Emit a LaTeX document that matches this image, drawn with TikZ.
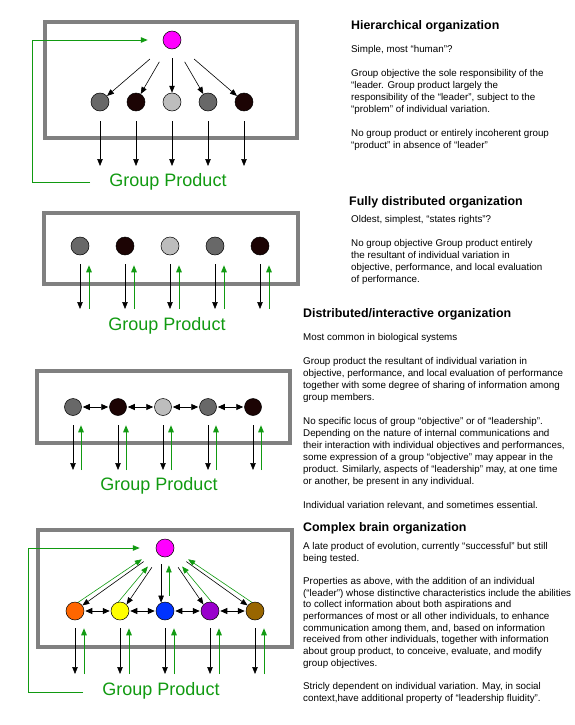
\documentclass[tikz,border=0pt]{standalone}
\usepackage{fontspec}
\setmainfont{Liberation Sans}
\usetikzlibrary{arrows.meta}
\definecolor{BoxGray}{HTML}{808080}
\definecolor{ProdGreen}{HTML}{119A11}
\definecolor{MidGray}{HTML}{686868}
\definecolor{DarkRed}{HTML}{1C0404}
\definecolor{LightGray}{HTML}{BDBDBD}
\definecolor{Leader}{HTML}{FF00FF}
\definecolor{Orange}{HTML}{FF6600}
\definecolor{Yellow}{HTML}{FFFF00}
\definecolor{Blue}{HTML}{0033FF}
\definecolor{Purple}{HTML}{9900CC}
\definecolor{Brown}{HTML}{996600}

\tikzset{
    member/.style={circle, draw=black, line width=0.5pt, minimum size=18pt, inner sep=0pt},
    frame/.style={draw=BoxGray, line width=4pt},
    arr/.style={-{Triangle[length=7pt,width=5.5pt]}, line width=0.6pt},
    garr/.style={arr, ProdGreen, line width=0.9pt},
    dblarr/.style={{Triangle[length=7pt,width=6pt]}-{Triangle[length=7pt,width=6pt]}, line width=0.9pt},
    product/.style={ProdGreen, inner sep=0pt, font=\fontsize{18}{20}\selectfont},
    heading/.style={anchor=base west, inner sep=0pt, font=\fontsize{12.4}{14}\selectfont\bfseries},
    body/.style={anchor=north west, inner sep=0pt, align=left, font=\fontsize{9.8}{12}\selectfont}
}

\begin{document}
\begin{tikzpicture}[x=1pt, y=-1pt]
    \useasboundingbox (0,0) rectangle (575,725);

    % Hierarchical organization
    \draw[frame] (45,22) rectangle (297,138);
    \node[member, fill=Leader] (l1) at (172,40) {};
    \foreach \i/\x/\c in {1/100/MidGray,2/136/DarkRed,3/172/LightGray,4/208/MidGray,5/244/DarkRed} {
        \node[member, fill=\c] (h\i) at (\x,102) {};
        \coordinate (o\i) at (\x,166);
    }
    \foreach \i/\sh in {1/20,2/16,3/9,4/16,5/20}
        \draw[arr, shorten <=\sh pt] (l1) -- (h\i);
    \foreach \i in {1,...,5}
        \draw[arr, shorten <=10pt] (h\i) -- (o\i);
    \node[product] (gp1) at (168,182) {Group Product};
    \coordinate (f1) at (90,182);
    \draw[garr, shorten >=15pt] (f1) -- ++(-58,0) |- (l1);

    \node[heading] (title1) at (351,30) {Hierarchical organization};
    \node[body] (text1) at (351,45) {Simple, most “human”?\\[12pt]
        Group objective the sole responsibility of the\\
        “leader.  Group product largely the\\
        responsibility of the “leader”, subject to the\\
        “problem” of individual variation.\\[12pt]
        No group product or entirely incoherent group\\
        “product” in absence of “leader”};

    % Fully distributed organization
    \draw[frame] (44,213) rectangle (298,284);
    \foreach \i/\x/\c in {1/80/MidGray,2/125/DarkRed,3/170/LightGray,4/215/MidGray,5/260/DarkRed} {
        \node[member, fill=\c] (d\i) at (\x,246) {};
        \coordinate (p\i) at (\x+9,309);
    }
    \foreach \i in {1,...,5} {
        \draw[arr, shorten <=9pt] (d\i) -- (d\i |- p\i);
        \draw[garr, shorten >=10pt] (p\i) -- (p\i |- d\i.south);
    }
    \node[product] (gp2) at (167,326) {Group Product};

    \node[heading] (title2) at (349,205) {Fully distributed organization};
    \node[body] (text2) at (351,215) {Oldest, simplest, “states rights”?\\[12pt]
        No group objective Group product entirely\\
        the resultant of individual variation in\\
        objective, performance, and local evaluation\\
        of performance.};

    % Distributed/interactive organization
    \draw[frame] (37,371) rectangle (290,443);
    \foreach \i/\x/\c in {1/73/MidGray,2/118/DarkRed,3/163/LightGray,4/208/MidGray,5/253/DarkRed} {
        \node[member, minimum size=17pt, fill=\c] (i\i) at (\x,407) {};
        \coordinate (q\i) at (\x+8,470);
    }
    \foreach \i/\j in {1/2,2/3,3/4,4/5}
        \draw[dblarr, shorten <=1pt, shorten >=1pt] (i\i) -- (i\j);
    \foreach \i in {1,...,5} {
        \draw[arr, shorten <=9.5pt] (i\i) -- (i\i |- q\i);
        \draw[garr, shorten >=9.5pt] (q\i) -- (q\i |- i\i.south);
    }
    \node[product] (gp3) at (159,486) {Group Product};

    \node[heading] (title3) at (303,317) {Distributed/interactive organization};
    \node[body] (text3) at (303,333) {Most common in biological systems\\[12pt]
        Group product  the resultant of individual variation in\\
        objective, performance, and local evaluation of performance\\
        together with some degree of sharing of information among\\
        group members.\\[12pt]
        No specific locus of group “objective” or of “leadership”.\\
        Depending on the nature of internal communications and\\
        their interaction with individual objectives and performances,\\
        some expression of a group “objective” may appear in the\\
        product.  Similarly, aspects of “leadership” may, at one time\\
        or another, be present in any individual.\\[12pt]
        Individual variation relevant, and sometimes essential.};

    % Complex brain organization
    \draw[frame] (38,530) rectangle (292,647);
    \node[member, fill=Leader] (l4) at (165,548) {};
    \foreach \i/\x/\c in {1/75/Orange,2/120/Yellow,3/165/Blue,4/210/Purple,5/255/Brown} {
        \node[member, fill=\c] (c\i) at (\x,611) {};
        \coordinate (r\i) at (\x+9,674);
    }
    \foreach \i/\a/\b/\g/\h/\sa/\sb/\sg in {1/207/37/70/191/16/17/0,2/236/45/100/222/14/16/0,
        3/245/115/65/295/8/9/7,4/304/135/80/318/14/16/0,5/333/143/110/349/16/17/0} {
        \draw[arr, shorten <=\sa pt] (l4.\a) -- (c\i.\b);
        \draw[garr, line width=0.6pt, shorten <=\sg pt, shorten >=\sb pt] (c\i.\g) -- (l4.\h);
    }
    \foreach \i/\j in {1/2,2/3,3/4,4/5}
        \draw[dblarr, shorten <=1pt, shorten >=1pt] (c\i) -- (c\j);
    \foreach \i in {1,...,5} {
        \draw[arr, shorten <=8pt] (c\i) -- (c\i |- r\i);
        \draw[garr, shorten >=8pt] (r\i) -- (r\i |- c\i.south);
    }
    \node[product] (gp4) at (161,691) {Group Product};
    \coordinate (f4) at (83,692);
    \draw[garr, shorten >=16pt] (f4) -- ++(-55,0) |- (l4);

    \node[heading] (title4) at (303,531) {Complex brain organization};
    \node[body, font=\fontsize{9.8}{11.7}\selectfont] (text4) at (303,542) {A late product of evolution, currently “successful” but still\\
        being tested.\\[11.7pt]
        Properties as above,  with the addition of an individual\\
        (“leader”) whose distinctive characteristics include the abilities\\
        to collect information about both aspirations and\\
        performances of most or all other individuals, to enhance\\
        communication among them, and, based on information\\
        received from other individuals, together with information\\
        about group product, to conceive, evaluate, and modify\\
        group objectives.\\[11.7pt]
        Stricly dependent on individual variation.  May, in social\\
        context,have additional property of “leadership fluidity”.};
\end{tikzpicture}
\end{document}
